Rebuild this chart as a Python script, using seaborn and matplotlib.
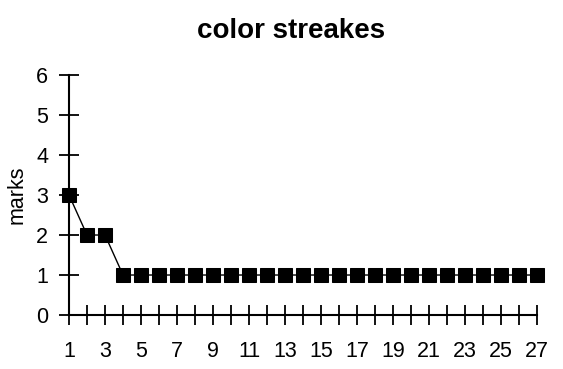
import matplotlib
matplotlib.use("Agg")
import matplotlib.pyplot as plt
import seaborn as sns
import pandas as pd

x_values = list(range(1, 28))
marks = [3, 2, 2] + [1] * 24
y_ticks = [0, 1, 2, 3, 4, 5, 6]

sns.set_style("ticks")
plt.rcParams['font.family'] = ['Liberation Sans', 'DejaVu Sans']
plt.rcParams['text.color'] = 'black'
plt.rcParams['axes.labelcolor'] = 'black'

df = pd.DataFrame({"x": x_values, "marks": marks})

fig = plt.figure(figsize=(5.63, 3.69), dpi=100)
ax = fig.add_axes([0.1226, 0.1463, 0.8312, 0.6504])
sns.lineplot(data=df, x="x", y="marks", ax=ax, color="black", linewidth=1.0,
             marker="s", markersize=10.5, markeredgecolor="black",
             markerfacecolor="black")

ax.set_xlim(1, 27)
ax.set_ylim(0, 6)
ax.set_xticks(x_values)
ax.set_xticklabels([str(v) if v % 2 == 1 else "" for v in x_values])
ax.set_yticks(y_ticks)
ax.tick_params(axis="both", direction="inout", length=14, width=1.3,
               labelsize=15.5, colors="black")
ax.tick_params(axis="x", pad=12)
ax.tick_params(axis="y", pad=8)
for s in ["top", "right"]:
    ax.spines[s].set_visible(False)
for s in ["left", "bottom"]:
    ax.spines[s].set_linewidth(1.5)
    ax.spines[s].set_color("black")
ax.set_xlabel("")
ax.set_ylabel("marks", fontsize=15.5, labelpad=6, color="black")
ax.set_title("color streakes", fontsize=20, fontweight="bold", pad=27,
             color="black", x=0.475)
for m in ax.lines:
    m.set_clip_on(False)

fig.savefig("out.png", dpi=100)
